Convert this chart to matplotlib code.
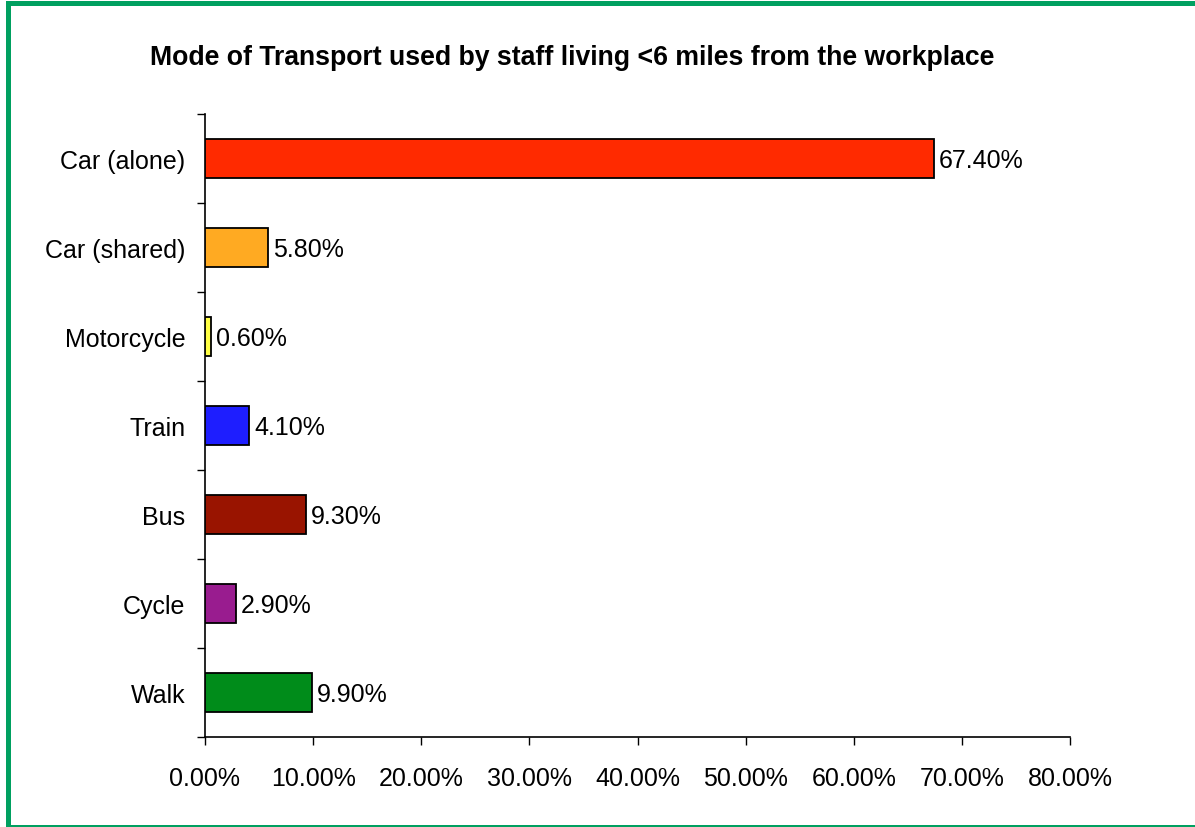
import matplotlib
matplotlib.use("Agg")
import matplotlib.pyplot as plt
from matplotlib.patches import Rectangle
from matplotlib.ticker import FixedLocator, FuncFormatter

plt.rcParams['font.family'] = ['Liberation Sans', 'DejaVu Sans']

# Data
modes = ["Car (alone)", "Car (shared)", "Motorcycle", "Train", "Bus", "Cycle", "Walk"]
shares = [67.4, 5.8, 0.6, 4.1, 9.3, 2.9, 9.9]
bar_colors = ["#FF2A00", "#FFAA22", "#FFFF44", "#1E1EFF", "#991400", "#991C8F", "#008C1A"]
x_ticks = [0, 10, 20, 30, 40, 50, 60, 70, 80]
title = "Mode of Transport used by staff living <6 miles from the workplace"

W, H = 1195, 828
fig = plt.figure(figsize=(W / 100, H / 100), dpi=100)
fig.patch.set_facecolor("white")

# Green frame (left, top, bottom)
green = "#00A060"
fig.patches.append(Rectangle((6 / W, 0), 5 / W, 1 - 2 / H, transform=fig.transFigure,
                             facecolor=green, edgecolor="none"))
fig.patches.append(Rectangle((6 / W, 1 - 7 / H), 1, 5 / H, transform=fig.transFigure,
                             facecolor=green, edgecolor="none"))
fig.patches.append(Rectangle((6 / W, 0), 1, 2 / H, transform=fig.transFigure,
                             facecolor=green, edgecolor="none"))

ax_left, ax_right, ax_top, ax_bottom = 205, 1070, 115, 738
ax = fig.add_axes([ax_left / W, 1 - ax_bottom / H, (ax_right - ax_left) / W,
                   (ax_bottom - ax_top) / H])

n = len(modes)
ypos = list(range(n))[::-1]
ax.barh(ypos, shares, height=0.43, color=bar_colors, edgecolor="black", linewidth=1.3, zorder=3)

for y, v in zip(ypos, shares):
    ax.text(v + 0.45, y - 0.02, f"{v:.2f}%", va="center", ha="left", fontsize=18, color="black")

ax.set_xlim(0, 80)
ax.set_ylim(-0.5, n - 0.5)

ax.set_xticks(x_ticks)
ax.xaxis.set_major_formatter(FuncFormatter(lambda v, p: f"{v:.2f}%"))

# Category labels centred on bars, tick marks on the boundaries
ax.set_yticks(ypos)
ax.set_yticklabels(modes)
ax.yaxis.set_minor_locator(FixedLocator([i - 0.5 for i in range(n + 1)]))
ax.tick_params(axis="y", which="major", length=0, pad=14, labelsize=18)
ax.tick_params(axis="y", which="minor", length=6, width=1, direction="out")
ax.tick_params(axis="x", which="major", length=6, width=1, direction="out", pad=15, labelsize=18)

for s in ["top", "right"]:
    ax.spines[s].set_visible(False)
for s in ["left", "bottom"]:
    ax.spines[s].set_linewidth(1.2)

fig.text(572 / W, 1 - 58 / H, title, ha="center", va="center", fontsize=19.2, fontweight="bold")

fig.savefig("out.png", dpi=100, facecolor="white")
